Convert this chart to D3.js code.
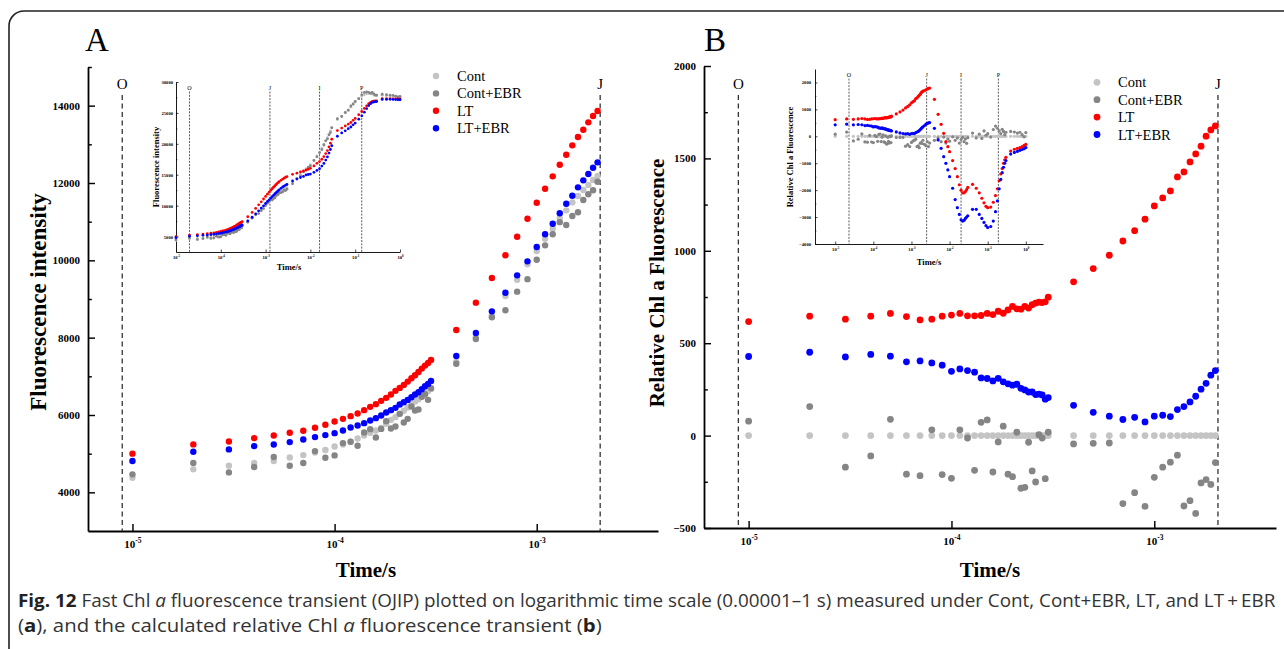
<!DOCTYPE html>
<html>
<head>
<meta charset="utf-8">
<script src="https://cdn.jsdelivr.net/npm/d3@7"></script>
<style>
  body { margin: 0; background: #fff; }
  svg text { font-family: "Liberation Serif", "Times New Roman", serif; }
  svg text.caption { font-family: "Liberation Sans Narrow", "Open Sans", sans-serif; }
</style>
</head>
<body>
<svg id="chart" width="1284" height="649"></svg>
<script>
// ---- data ----
const seriesNames = ["Cont", "Cont+EBR", "LT", "LT+EBR"];
const seriesColors = ["#c4c4c4", "#858585", "#ff0000", "#0000ff"];

// time points (s) of the main panels
const mainTimes = [1e-5, 2e-5, 3e-5, 4e-5, 5e-5, 6e-5, 7e-5, 8e-5, 9e-5,
  1e-4, 1.1e-4, 1.2e-4, 1.3e-4, 1.4e-4, 1.5e-4, 1.6e-4, 1.7e-4, 1.8e-4, 1.9e-4, 2e-4,
  2.1e-4, 2.2e-4, 2.3e-4, 2.4e-4, 2.5e-4, 2.6e-4, 2.7e-4, 2.8e-4, 2.9e-4, 3e-4,
  4e-4, 5e-4, 6e-4, 7e-4, 8e-4, 9e-4,
  1e-3, 1.1e-3, 1.2e-3, 1.3e-3, 1.4e-3, 1.5e-3, 1.6e-3, 1.7e-3, 1.8e-3, 1.9e-3, 2e-3];
// extra time points only shown in the insets (up to 1 s)
const extTimes = [2.2e-3, 2.4e-3, 2.6e-3, 2.8e-3, 3e-3,
  4e-3, 5e-3, 6e-3, 7e-3, 8e-3, 9e-3,
  1e-2, 1.2e-2, 1.4e-2, 1.6e-2, 1.8e-2, 2e-2, 2.2e-2, 2.4e-2, 2.6e-2, 2.8e-2, 3e-2,
  4e-2, 5e-2, 6e-2, 7e-2, 8e-2, 9e-2,
  0.1, 0.12, 0.14, 0.16, 0.18, 0.2, 0.22, 0.24, 0.26, 0.28, 0.3,
  0.4, 0.5, 0.6, 0.7, 0.8, 0.9, 1];

// A: fluorescence intensity
const aCont = [4379, 4594, 4688, 4757, 4809, 4903, 4963, 5032, 5093,
  5187, 5239, 5308, 5394, 5471, 5540, 5600, 5668, 5772, 5875, 5944, 6030, 6108, 6194, 6271, 6348, 6409, 6477, 6538, 6615, 6675,
  7370, 8009, 8568, 9077, 9499, 9897,
  10241, 10559, 10818, 11094, 11293, 11500, 11663, 11818, 11948, 12077, 12180];
const aContEbr = [4465, 4757, 4516, 4654, 4912, 4688, 4757, 5067, 4895,
  4955, 5273, 5308, 5204, 5549, 5634, 5420, 5640, 5841, 5652, 5703, 6030, 5806, 5901, 6220, 6116, 6142, 6469, 6538, 6392, 6693,
  7325, 7967, 8528, 8709, 9190, 9514,
  10015, 10388, 10674, 10988, 10912, 11148, 11242, 11562, 11710, 11813, 12034];
const aLt = [5000, 5240, 5316, 5402, 5471, 5540, 5591, 5669, 5746,
  5832, 5901, 5970, 6039, 6125, 6211, 6280, 6366, 6443, 6529, 6624, 6701, 6779, 6864, 6951, 7028, 7114, 7200, 7277, 7346, 7424,
  8200, 8905, 9543, 10130, 10611, 11076,
  11490, 11852, 12172, 12472, 12731, 12974, 13189, 13378, 13569, 13732, 13861];
const aLtEbr = [4809, 5049, 5110, 5196, 5239, 5299, 5368, 5428, 5480,
  5531, 5600, 5677, 5729, 5789, 5858, 5918, 5987, 6065, 6125, 6185, 6271, 6331, 6391, 6460, 6529, 6589, 6667, 6744, 6804, 6882,
  7527, 8120, 8680, 9162, 9612, 9974,
  10344, 10673, 10947, 11216, 11464, 11671, 11888, 12069, 12232, 12395, 12534];

const aContExt = [12400, 12570, 12690, 12820, 12910,
  13685, 14432, 14994, 15489, 15968, 16284,
  16610, 17320, 18050, 18620, 19300, 19930, 20520, 21000, 21550, 22080, 22640,
  23934, 24480, 25000, 25500, 25920, 26400,
  26750, 27330, 27680, 27920, 28100, 28130, 28100, 28060, 27900, 27830, 27740,
  27840, 27780, 27750, 27700, 27650, 27600, 27550];
const aContEbrExt = [12100, 12220, 12490, 12440, 12660,
  13535, 14372, 14794, 15459, 15718, 16184,
  16430, 17300, 17900, 18560, 19050, 19810, 20480, 20800, 21450, 21820, 22590,
  24054, 24420, 25080, 25420, 26120, 26440,
  26850, 27300, 27930, 28300, 28400, 28330, 28200, 28320, 28080, 27890, 27890,
  28020, 27940, 27870, 27850, 27710, 27580, 27690];
const aLtExt = [14100, 14300, 14450, 14600, 14700,
  15060, 15250, 15440, 15600, 15770, 15900,
  16040, 16420, 16850, 17120, 17500, 17930, 18420, 18900, 19500, 20100, 20740,
  22150, 22550, 22900, 23200, 23450, 23800,
  24100, 24700, 25230, 25720, 26150, 26480, 26700, 26860, 26900, 26960, 26960,
  27290, 27300, 27300, 27280, 27270, 27260, 27250];
const aLtEbrExt = [12800, 13020, 13170, 13320, 13420,
  13982, 14296, 14548, 14733, 14964, 15034,
  15110, 15390, 15700, 15970, 16400, 16830, 17370, 17880, 18500, 19080, 19690,
  21221, 21767, 22100, 22450, 22720, 23080,
  23360, 23980, 24530, 25120, 25700, 26180, 26500, 26710, 26750, 26830, 26840,
  27180, 27180, 27190, 27180, 27160, 27140, 27130];

// B: relative Chl a fluorescence (minus Cont)
const bCont = [0, 0, 0, 0, 0, 0, 0, 0, 0,
  0, 0, 0, 0, 0, 0, 0, 0, 0, 0, 0, 0, 0, 0, 0, 0, 0, 0, 0, 0, 0,
  0, 0, 0, 0, 0, 0,
  0, 0, 0, 0, 0, 0, 0, 0, 0, 0, 0];
const bContEbr = [78, 157, -171, -110, 88, -209, -217, 31, -211,
  -231, 31, -13, -188, 72, 85, -197, -34, 51, -209, -222, 18, -285, -280, -36, -191, -251, 5, -13, -233, 18,
  -45, -42, -40, -368, -309, -383,
  -226, -171, -144, -106, -381, -352, -421, -256, -238, -264, -146];
const bLt = [617, 646, 630, 646, 661, 644, 626, 630, 646,
  652, 661, 648, 648, 650, 661, 655, 673, 662, 680, 699, 686, 684, 699, 690, 708, 717, 722, 720, 724, 749,
  832, 904, 976, 1053, 1109, 1171,
  1243, 1286, 1324, 1400, 1427, 1481, 1524, 1566, 1620, 1654, 1676];
const bLtEbr = [428, 451, 426, 439, 430, 399, 404, 393, 381,
  348, 361, 352, 343, 312, 309, 296, 310, 291, 280, 273, 278, 256, 247, 236, 236, 222, 224, 220, 197, 206,
  164, 126, 105, 87, 99, 74,
  105, 110, 103, 141, 157, 182, 213, 251, 283, 327, 352];

const bContExt = [0, 0, 0, 0, 0, 0, 0, 0, 0, 0, 0, 0, 0, 0, 0, 0, 0, 0, 0, 0, 0, 0, 0,
  0, 0, 0, 0, 0, 0, 0, 0, 0, 0, 0, 0, 0, 0, 0, 0, 0, 0, 0, 0, 0, 0, 0];
const bContEbrExt = [-300, -350, -200, -380, -250,
  -150, -60, -200, -30, -250, -100,
  -180, -20, -150, -60, -250, -120, -40, -200, -100, -260, -50,
  120, -60, 80, -80, 200, 40,
  100, -30, 250, 380, 300, 200, 100, 260, 180, 60, 150,
  180, 160, 120, 150, 60, -20, 140];
const bLtExt = [1700, 1730, 1760, 1780, 1790,
  1375, 818, 446, 111, -198, -384,
  -570, -900, -1200, -1500, -1800, -2000, -2100, -2100, -2050, -1980, -1900,
  -1784, -1930, -2100, -2300, -2470, -2600,
  -2650, -2630, -2450, -2200, -1950, -1650, -1400, -1200, -1000, -870, -780,
  -550, -480, -450, -420, -380, -340, -300];
const bLtEbrExt = [400, 450, 480, 500, 510,
  297, -136, -446, -756, -1004, -1250,
  -1500, -1930, -2350, -2650, -2900, -3100, -3150, -3120, -3050, -3000, -2950,
  -2713, -2713, -2900, -3050, -3200, -3320,
  -3390, -3350, -3150, -2800, -2400, -1950, -1600, -1350, -1150, -1000, -900,
  -660, -600, -560, -520, -490, -460, -420];

const aYTicks = [4000, 6000, 8000, 10000, 12000, 14000];
const bYTicks = [-500, 0, 500, 1000, 1500, 2000];
const insetAYTicks = [5000, 10000, 15000, 20000, 25000, 30000];
const insetBYTicks = [-4000, -3000, -2000, -1000, 0, 1000, 2000];
const mainXTicks = [1e-5, 1e-4, 1e-3];
const insetXTicks = [1e-5, 1e-4, 1e-3, 1e-2, 1e-1, 1];

// ---- drawing ----
const svg = d3.select("#chart");
const serif = '"Liberation Serif", "Times New Roman", serif';

svg.append("rect")
  .attr("x", 9).attr("y", 11).attr("width", 1300).attr("height", 660).attr("rx", 15)
  .attr("fill", "none").attr("stroke", "#222").attr("stroke-width", 1.6);

function zip(times, vals) { return times.map((t, i) => ({ t: t, v: vals[i] })); }

class OjipPanel {
  constructor(_config, _series) {
    this.config = _config;
    this.series = _series;
    this.initVis();
    this.renderVis();
  }

  initVis() {
    let vis = this;
    let c = vis.config;
    vis.g = svg.append("g");
    vis.x = d3.scaleLog().domain(c.xDomain).range([c.left, c.right]);
    vis.y = d3.scaleLinear().domain(c.yDomain).range([c.bottom, c.top]);

    // minor y ticks first, major on top
    let minor = vis.g.append("g").attr("transform", `translate(${c.left},0)`)
      .call(d3.axisLeft(vis.y).tickValues(c.yMinor).tickSize(-c.tickLen * 0.55).tickFormat(""));
    minor.select(".domain").remove();
    minor.selectAll(".tick line").attr("stroke-width", c.axisWidth * 0.8);

    vis.yAxisG = vis.g.append("g").attr("transform", `translate(${c.left},0)`)
      .call(d3.axisLeft(vis.y).tickValues(c.yTicks).tickSize(-c.tickLen).tickSizeOuter(0)
        .tickPadding(c.yPad).tickFormat(d3.format("d")));
    vis.styleAxis(vis.yAxisG);

    vis.xAxisG = vis.g.append("g").attr("transform", `translate(0,${c.bottom})`)
      .call(d3.axisBottom(vis.x).tickValues(c.xTicks).tickSize(-c.tickLen).tickSizeOuter(0).tickPadding(c.xPad));
    vis.styleAxis(vis.xAxisG);
    // 10^n labels
    vis.xAxisG.selectAll(".tick text").each(function (d) {
      let t = d3.select(this).text(null);
      t.append("tspan").text("10");
      t.append("tspan").attr("dy", -c.tickFont * 0.45).attr("font-size", c.tickFont * 0.68)
        .text(String(Math.round(Math.log10(d))));
    });

    // axis titles
    vis.g.append("text")
      .attr("transform", `translate(${c.yTitleX},${c.yTitleY}) rotate(-90)`)
      .attr("text-anchor", "middle").attr("font-weight", "bold").attr("font-size", c.yTitleFont)
      .text(c.yTitle);
    vis.g.append("text")
      .attr("x", c.xTitleX).attr("y", c.xTitleY)
      .attr("text-anchor", "middle").attr("font-weight", "bold").attr("font-size", c.titleFont)
      .text("Time/s");

    // O / J / I / P marker lines
    c.markers.forEach(m => {
      let mx = vis.x(m.t);
      vis.g.append("line")
        .attr("x1", mx).attr("x2", mx).attr("y1", c.markerTop).attr("y2", c.bottom)
        .attr("stroke", "#333").attr("stroke-width", c.markerWidth).attr("stroke-dasharray", c.markerDash);
      vis.g.append("text")
        .attr("x", mx).attr("y", c.markerLabelY).attr("text-anchor", "middle")
        .attr("font-size", c.markerFont).text(m.label);
    });
  }

  styleAxis(g) {
    let c = this.config;
    g.attr("font-family", serif).attr("font-size", c.tickFont).attr("font-weight", "bold");
    g.select(".domain").attr("stroke-width", c.axisWidth);
    g.selectAll(".tick line").attr("stroke-width", c.axisWidth * 0.8);
  }

  renderVis() {
    let vis = this;
    vis.series.forEach((s, i) => {
      vis.g.append("g")
        .selectAll("circle")
        .data(s)
        .join("circle")
          .attr("cx", d => vis.x(d.t))
          .attr("cy", d => vis.y(d.v))
          .attr("r", vis.config.r)
          .attr("fill", seriesColors[i]);
    });

    if (vis.config.legend) {
      let L = vis.config.legend;
      let lg = vis.g.append("g");
      seriesNames.forEach((name, i) => {
        let cy = L.y + i * L.step;
        lg.append("circle").attr("cx", L.x).attr("cy", cy).attr("r", vis.config.r).attr("fill", seriesColors[i]);
        lg.append("text").attr("x", L.x + 21).attr("y", cy + 5).attr("font-size", 14.5).text(name);
      });
    }
  }
}

const allTimes = mainTimes.concat(extTimes);

// inset of A
new OjipPanel({
  left: 176, right: 400, top: 82, bottom: 252,
  xDomain: [1e-5, 1], yDomain: [2500, 30000],
  xTicks: insetXTicks, yTicks: insetAYTicks, yMinor: [7500, 12500, 17500, 22500, 27500],
  tickLen: 2.5, tickFont: 4.6, yPad: 3, xPad: 4, axisWidth: 0.9,
  yTitle: "Fluorescence intensity", yTitleX: 158.5, yTitleY: 167, yTitleFont: 8.5,
  xTitleX: 289, xTitleY: 270, titleFont: 8.5,
  markers: [{ label: "O", t: 2e-5 }, { label: "J", t: 1.25e-3 }, { label: "I", t: 1.6e-2 }, { label: "P", t: 0.14 }],
  markerTop: 91.5, markerLabelY: 90, markerFont: 6, markerWidth: 0.8, markerDash: "2,1.3",
  r: 1.4
}, [zip(allTimes, aCont.concat(aContExt)), zip(allTimes, aContEbr.concat(aContEbrExt)),
    zip(allTimes, aLt.concat(aLtExt)), zip(allTimes, aLtEbr.concat(aLtEbrExt))]);

// inset of B
new OjipPanel({
  left: 815, right: 1043, top: 69, bottom: 244,
  xDomain: [Math.pow(10, -5.53), Math.pow(10, 0.45)], yDomain: [-4000, 2500],
  xTicks: insetXTicks, yTicks: insetBYTicks, yMinor: [-3500, -2500, -1500, -500, 500, 1500],
  tickLen: 2.5, tickFont: 4.6, yPad: 4, xPad: 4, axisWidth: 0.9,
  yTitle: "Relative Chl a Fluorescence", yTitleX: 793, yTitleY: 157, yTitleFont: 8.5,
  xTitleX: 929, xTitleY: 265, titleFont: 8.5,
  markers: [{ label: "O", t: 2.3e-5 }, { label: "J", t: 2.5e-3 }, { label: "I", t: 0.02 }, { label: "P", t: 0.19 }],
  markerTop: 78.5, markerLabelY: 77, markerFont: 6, markerWidth: 0.8, markerDash: "2,1.3",
  r: 1.6
}, [zip(allTimes, bCont.concat(bContExt)), zip(allTimes, bContEbr.concat(bContEbrExt)),
    zip(allTimes, bLt.concat(bLtExt)), zip(allTimes, bLtEbr.concat(bLtEbrExt))]);

// panel A
new OjipPanel({
  left: 88, right: 658, top: 67, bottom: 531,
  xDomain: [Math.pow(10, -5.22), Math.pow(10, -2.4)], yDomain: [3000, 15000],
  xTicks: mainXTicks, yTicks: aYTicks, yMinor: [5000, 7000, 9000, 11000, 13000, 15000],
  tickLen: 7, tickFont: 11, yPad: 8, xPad: 9, axisWidth: 1.8,
  yTitle: "Fluorescence intensity", yTitleX: 46, yTitleY: 302, yTitleFont: 23,
  xTitleX: 366, xTitleY: 577, titleFont: 21,
  markers: [{ label: "O", t: 8.9e-6 }, { label: "J", t: 2.06e-3 }],
  markerTop: 95, markerLabelY: 88.5, markerFont: 15, markerWidth: 1.3, markerDash: "5,3.5",
  r: 3.2,
  legend: { x: 436, y: 76, step: 17.4 }
}, [zip(mainTimes, aCont), zip(mainTimes, aContEbr), zip(mainTimes, aLt), zip(mainTimes, aLtEbr)]);

// panel B
new OjipPanel({
  left: 704, right: 1276, top: 66, bottom: 528,
  xDomain: [Math.pow(10, -5.22), Math.pow(10, -2.4)], yDomain: [-500, 2000],
  xTicks: mainXTicks, yTicks: bYTicks, yMinor: [-250, 250, 750, 1250, 1750],
  tickLen: 7, tickFont: 11, yPad: 8, xPad: 9, axisWidth: 1.8,
  yTitle: "Relative Chl a Fluorescence", yTitleX: 664, yTitleY: 283, yTitleFont: 21,
  xTitleX: 990, xTitleY: 577, titleFont: 21,
  markers: [{ label: "O", t: 8.9e-6 }, { label: "J", t: 2.06e-3 }],
  markerTop: 95, markerLabelY: 88.5, markerFont: 15, markerWidth: 1.3, markerDash: "5,3.5",
  r: 3.4,
  legend: { x: 1097, y: 82.3, step: 17.4 }
}, [zip(mainTimes, bCont), zip(mainTimes, bContEbr), zip(mainTimes, bLt), zip(mainTimes, bLtEbr)]);

// panel letters
svg.append("text").attr("x", 85).attr("y", 51).attr("font-size", 33).text("A");
svg.append("text").attr("x", 704).attr("y", 51).attr("font-size", 33).text("B");

// caption
function captionLine(parts) {
  let t = svg.append("text").attr("class", "caption").attr("y", 0).attr("font-size", 18).attr("fill", "#333");
  parts.forEach(p => {
    let s = t.append("tspan").text(p.s);
    if (p.b) s.attr("font-weight", "bold").attr("fill", "#222");
    if (p.i) s.attr("font-style", "italic");
  });
  return t;
}
const cap1 = captionLine([
  { s: "Fig. 12", b: true },
  { s: " Fast Chl " }, { s: "a", i: true },
  { s: " fluorescence transient (OJIP) plotted on logarithmic time scale (0.00001\u20131 s) measured under Cont, Cont+EBR, LT, and LT\u2009+\u2009EBR" }
]);
const cap2 = captionLine([
  { s: "(" }, { s: "a", b: true }, { s: "), and the calculated relative Chl " }, { s: "a", i: true },
  { s: " fluorescence transient (" }, { s: "b", b: true }, { s: ")" }
]);
const sx1 = 1258 / cap1.node().getComputedTextLength();
const sx2 = 584 / cap2.node().getComputedTextLength();
cap1.attr("transform", `translate(18,607) scale(${sx1},1)`);
cap2.attr("transform", `translate(18,632) scale(${sx2},1)`);
</script>
</body>
</html>
